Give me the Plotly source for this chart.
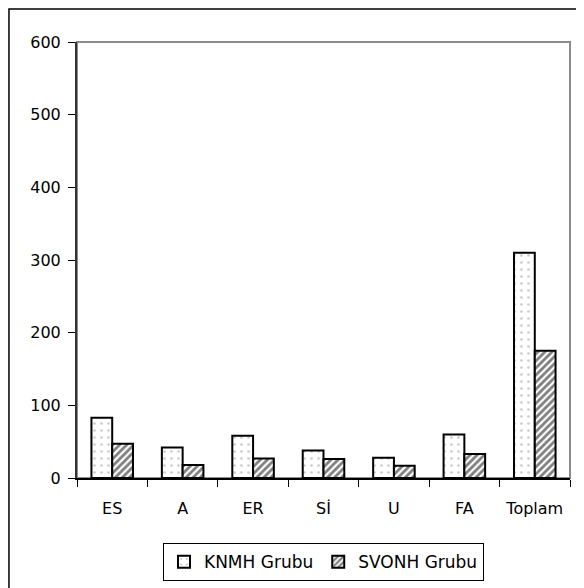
import plotly.graph_objects as go

categories = ["ES", "A", "ER", "Sİ", "U", "FA", "Toplam"]
knmh = [83, 42, 58, 38, 28, 60, 310]
svonh = [47, 18, 27, 26, 17, 33, 175]
series_names = ["KNMH Grubu", "SVONH Grubu"]
y_ticks = [0, 100, 200, 300, 400, 500, 600]

FONT = "DejaVu Sans"

fig = go.Figure()
fig.add_trace(go.Bar(
    x=categories, y=knmh, name=series_names[0],
    marker=dict(color="white", line=dict(color="black", width=2),
                pattern=dict(shape=".", fgcolor="#9a9a9a", bgcolor="white",
                             size=7, solidity=0.12)),
))
fig.add_trace(go.Bar(
    x=categories, y=svonh, name=series_names[1],
    marker=dict(color="white", line=dict(color="black", width=2),
                pattern=dict(shape="/", fgcolor="black", bgcolor="white",
                             size=5, solidity=0.55)),
))

fig.update_layout(
    width=584, height=588,
    margin=dict(l=69, r=22, t=34, b=118),
    paper_bgcolor="white", plot_bgcolor="white",
    barmode="group", bargap=0.41, bargroupgap=0,
    font=dict(family=FONT, size=16, color="black"),
    showlegend=True,
    legend=dict(orientation="h", x=0.5, xanchor="center", y=-0.193, yanchor="middle",
                bordercolor="black", borderwidth=1, font=dict(size=17, family=FONT),
                itemwidth=30, tracegroupgap=0, traceorder="normal"),
    xaxis=dict(showline=True, linecolor="black", linewidth=1.5, ticks="outside",
               tickson="boundaries", ticklen=7, tickcolor="black", showgrid=False,
               tickfont=dict(size=16, family=FONT), ticklabelstandoff=15),
    yaxis=dict(range=[0, 600], tickvals=y_ticks, showline=True, linecolor="#333333",
               linewidth=2, ticks="outside", ticklen=7, tickcolor="black",
               showgrid=False, zeroline=False, tickfont=dict(size=16, family=FONT),
               ticklabelstandoff=4),
    shapes=[
        dict(type="rect", xref="paper", yref="paper", x0=0, x1=1, y0=0, y1=1,
             line=dict(color="#8c8c8c", width=2), layer="below"),
        dict(type="rect", xref="paper", yref="paper", x0=-0.138, x1=1.06, y0=-0.3, y1=1.0757,
             line=dict(color="black", width=1.5), layer="below"),
    ],
)

fig.write_html("out.html")
